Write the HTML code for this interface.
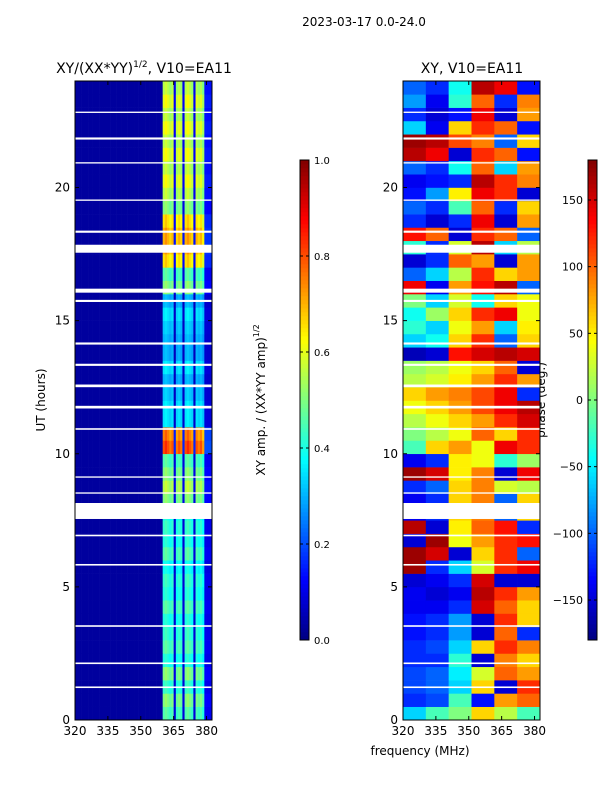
<!DOCTYPE html>
<html><head><meta charset="utf-8"><style>
body{margin:0;background:#fff;font-family:"DejaVu Sans",sans-serif}
svg text{font-family:"DejaVu Sans",sans-serif}
</style></head><body>
<svg id="fig" width="600" height="800" xmlns="http://www.w3.org/2000/svg">
<text x="364" y="26" font-size="12" text-anchor="middle">2023-03-17 0.0-24.0</text>
<text x="144" y="73" font-size="14" text-anchor="middle">XY/(XX*YY)<tspan dy="-6" font-size="9">1/2</tspan><tspan dy="6">, V10=EA11</tspan></text>
<text x="472" y="73" font-size="14" text-anchor="middle">XY, V10=EA11</text>
<text transform="translate(45,400) rotate(-90)" font-size="12" text-anchor="middle">UT (hours)</text>
<text x="420" y="755" font-size="12" text-anchor="middle">frequency (MHz)</text>
<text transform="translate(265,400) rotate(-90)" font-size="12" text-anchor="middle">XY amp. / (XX*YY amp)<tspan dy="-6" font-size="8">1/2</tspan></text>
<text transform="translate(545,400) rotate(-90)" font-size="12" text-anchor="middle">phase (deg.)</text>
<g id="gL"></g><g id="gR"></g><g id="gC"></g>
</svg>
<script>
// ---- data ----
const hourTicks=[0,5,10,15,20];
const freqTicks=[320,335,350,365,380];
const ampTicks=[0.0,0.2,0.4,0.6,0.8,1.0];
const phaseTicks=[-150,-100,-50,0,50,100,150];
// left panel: per-1MHz channel gain (320..382) and per half-hour amplitude
const chanGain=[0.06,0.06,0.06,0.06,0.06,0.06,0.06,0.06,0.06,0.06,0.06,0.06,0.06,0.06,0.06,0.06,0.06,0.06,0.06,0.06,
0.06,0.06,0.06,0.06,0.06,0.06,0.06,0.06,0.06,0.06,0.06,0.06,0.06,0.06,0.06,0.06,0.06,0.06,0.06,0.06,
1.0,1.05,1.0,0.95,1.0,0.2,0.95,1.0,0.95,0.2,1.0,1.05,1.0,0.95,0.2,1.0,0.95,1.0,0.9,0.25,0.25,0.25,0.25];
const ampByHalfHour=[0.45,0.5,0.42,0.5,0.4,0.45,0.42,0.4,0.45,0.4,0.42,0.38,0.45,0.4,0.42,0.4,0.5,0.55,0.5,0.45,
0.8,0.75,0.35,0.35,0.32,0.3,0.35,0.3,0.3,0.32,0.35,0.3,0.5,0.45,0.65,0.7,0.7,0.65,0.5,0.55,
0.6,0.55,0.6,0.55,0.6,0.55,0.6,0.55];
// right panel: phase (deg) per half-hour row, 6 frequency groups
const phaseRows=[
[-60,-20,0,60,20,-20],[-120,-110,-20,-130,80,100],[-110,-100,-60,60,-150,120],[-110,-100,-50,30,100,80],
[-120,-120,-30,-150,90,60],[-120,-110,-60,60,120,90],[-130,-120,-80,-150,100,-120],[-130,-120,-80,-150,120,60],
[-140,-140,-120,150,100,60],[-140,-150,-140,160,120,80],[-150,-140,-120,150,-150,-150],[170,-120,-60,30,120,140],
[170,150,-150,60,120,-100],[-150,170,40,80,120,130],[160,-150,50,100,130,-120],[-140,-120,60,90,-100,60],
[-140,-120,60,90,-100,60],[-120,-100,60,90,30,20],[170,150,50,90,-150,140],[-140,-120,50,40,-30,10],
[-20,60,80,40,140,120],[0,20,40,100,60,120],[20,40,60,80,120,150],[40,60,80,110,140,160],
[60,80,90,110,140,-120],[20,30,50,80,120,80],[10,20,40,60,100,-150],[-160,-150,130,150,160,150],
[-60,-40,60,120,-100,60],[-30,-60,40,80,-60,50],[-40,10,60,120,140,40],[0,-60,30,-40,60,40],
[140,-140,80,130,160,-100],[-100,-60,20,120,60,80],[-150,-120,100,80,-150,80],[-30,-120,30,160,-60,20],
[130,100,-150,120,100,-100],[-120,-150,-120,140,-150,80],[-100,-120,-20,100,-120,60],[-130,-80,50,140,120,-150],
[-140,-130,-120,160,120,90],[-100,-120,-40,100,-60,80],[160,140,-150,120,100,-130],[170,160,110,90,-100,60],
[-60,-140,60,120,100,-130],[-120,-150,-130,140,-150,80],[-80,-140,-30,100,-120,90],[-100,-120,-40,160,140,-130]];
const gapStart=[7.55,17.55,16.05,12.5,13.3,11.7,14.1,21.8,18.3,3.5,2.1,6.9,5.8,9.1,8.5,19.5,20.9,22.8,1.2,10.9,15.7];
const gapLen=[0.6,0.3,0.15,0.1,0.08,0.1,0.08,0.08,0.08,0.06,0.06,0.06,0.06,0.05,0.05,0.05,0.05,0.05,0.06,0.06,0.08];

// ---- helpers ----
const NS='http://www.w3.org/2000/svg';
function jet(v){v=Math.max(0,Math.min(1,v));
 const r=Math.max(0,Math.min(1,1.5-Math.abs(4*v-3))),g=Math.max(0,Math.min(1,1.5-Math.abs(4*v-2))),b=Math.max(0,Math.min(1,1.5-Math.abs(4*v-1)));
 return `rgb(${Math.round(r*255)},${Math.round(g*255)},${Math.round(b*255)})`;}
function mk(tag,attrs,parent){const e=document.createElementNS(NS,tag);for(const k in attrs)e.setAttribute(k,attrs[k]);parent.appendChild(e);return e;}
const T=81,B=720,FMIN=320,FMAX=382.5;
const yS=h=>B-(B-T)*h/24;
function panel(x0,x1){return f=>x0+(x1-x0)*(f-FMIN)/(FMAX-FMIN);}
const gL=document.getElementById('gL'),gR=document.getElementById('gR'),gC=document.getElementById('gC');
// left heatmap
const xL=panel(75,212);
ampByHalfHour.forEach((a,r)=>{chanGain.forEach((cg,c)=>{
 const v=cg<0.1?0.03:Math.min(1,cg*a);
 const f0=FMIN+c, f1=Math.min(FMAX,f0+1);
 const el=mk('rect',{x:xL(f0),y:yS(r*0.5+0.5),width:xL(f1)-xL(f0)+0.3,height:yS(r*0.5)-yS(r*0.5+0.5)+0.3,fill:jet(v)},gL);
 
 
});});
// right heatmap
const xR=panel(403,540);
const grpW=(FMAX-FMIN)/6;
phaseRows.forEach((row,r)=>{row.forEach((p,c)=>{
 const f0=FMIN+c*grpW;
 const el=mk('rect',{x:xR(f0),y:yS(r*0.5+0.5),width:xR(f0+grpW)-xR(f0)+0.3,height:yS(r*0.5)-yS(r*0.5+0.5)+0.3,fill:jet((p+180)/360)},gR);
 
 
});});
// gaps + frames + ticks
[[gL,75,212,xL],[gR,403,540,xR]].forEach(([g,x0,x1,xS])=>{
 gapStart.forEach((s,i)=>{const el=mk('rect',{x:x0,y:yS(s+gapLen[i]),width:x1-x0,height:yS(s)-yS(s+gapLen[i]),fill:'#fff'},g);
  
  });
 const fr=mk('rect',{x:x0,y:T,width:x1-x0,height:B-T,fill:'none',stroke:'#000','stroke-width':1},g);
 
 
 hourTicks.forEach(h=>{const y=yS(h);
  mk('line',{x1:x0,x2:x0+4,y1:y,y2:y,stroke:'#000'},g);mk('line',{x1:x1,x2:x1-4,y1:y,y2:y,stroke:'#000'},g);
  const t=mk('text',{x:x0-5,y:y+4,'font-size':12,'text-anchor':'end'},g);t.textContent=h;
  
  });
 freqTicks.forEach(f=>{const x=xS(f);
  mk('line',{x1:x,x2:x,y1:B,y2:B-4,stroke:'#000'},g);mk('line',{x1:x,x2:x,y1:T,y2:T+4,stroke:'#000'},g);
  const t=mk('text',{x:x,y:B+15,'font-size':12,'text-anchor':'middle'},g);t.textContent=f;
  
  });
});
// colorbars
function cbar(x,vals,vmin,vmax,name,left){
 const top=160,bot=640,w=9;
 for(let i=0;i<120;i++){const el=mk('rect',{x:x,y:bot-(i+1)*4,width:w,height:4.3,fill:jet((i+0.5)/120)},gC);
  
  }
 mk('rect',{x:x,y:top,width:w,height:bot-top,fill:'none',stroke:'#000'},gC);
 vals.forEach(v=>{const y=bot-(bot-top)*(v-vmin)/(vmax-vmin);
  mk('line',{x1:x,x2:x+3,y1:y,y2:y,stroke:'#000'},gC);mk('line',{x1:x+w,x2:x+w-3,y1:y,y2:y,stroke:'#000'},gC);
  const t=mk('text',left?{x:x-5,y:y+4,'font-size':11,'text-anchor':'end'}:{x:x+w+5,y:y+4,'font-size':10},gC);
  t.textContent=(vmax<=1?v.toFixed(1):(v<0?'\u2212'+(-v):v));
  
  });
}
cbar(300,ampTicks,0,1,'amp-colorbar',false);
cbar(588,phaseTicks,-180,180,'phase-colorbar',true);
</script>
</body></html>
